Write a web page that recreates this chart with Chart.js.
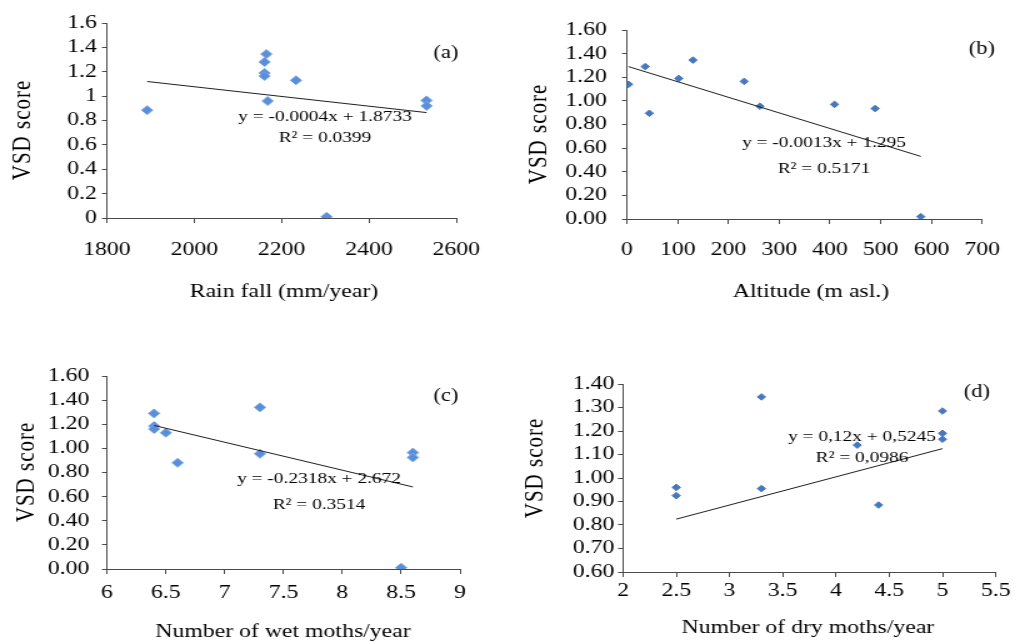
<!DOCTYPE html>
<html>
<head>
<meta charset="utf-8">
<script src="https://cdn.jsdelivr.net/npm/chart.js@4.4.0/dist/chart.umd.min.js"></script>
<style>
  html, body { margin: 0; padding: 0; background: #fff; }
  body { width: 1019px; height: 644px; position: relative; overflow: hidden; }
  canvas { position: absolute; transform-origin: 0 0; }
</style>
</head>
<body>
<canvas id="chartA"></canvas>
<canvas id="chartB"></canvas>
<canvas id="chartC"></canvas>
<canvas id="chartD"></canvas>
<script>
// (a) curah hujan
const rainfall = [1892, 2165, 2161, 2161, 2161, 2168, 2233, 2303, 2532, 2532];
const vsdA     = [0.885, 1.345, 1.28, 1.19, 1.165, 0.96, 1.13, 0.01, 0.965, 0.92];
const trendAx  = [1892, 2532];
const trendAy  = [1.12, 0.865];
const rainTicks = [1800, 2000, 2200, 2400, 2600];
const vsdTicksA = [0, 0.2, 0.4, 0.6, 0.8, 1, 1.2, 1.4, 1.6];
const vsdLabelsA = ['0', '0.2', '0.4', '0.6', '0.8', '1', '1.2', '1.4', '1.6'];

// (b) ketinggian
const altitude = [3, 36, 44, 102, 130, 231, 262, 409, 489, 579];
const vsdB     = [1.14, 1.29, 0.895, 1.19, 1.345, 1.165, 0.955, 0.97, 0.935, 0.02];
const trendBx  = [3, 579];
const trendBy  = [1.29, 0.53];
const altTicks = [0, 100, 200, 300, 400, 500, 600, 700];

// (c) bulan basah
const wetMonths = [6.4, 6.4, 6.4, 6.5, 6.6, 7.3, 7.3, 8.5, 8.6, 8.6];
const vsdC      = [1.29, 1.185, 1.16, 1.13, 0.88, 1.34, 0.955, 0.01, 0.965, 0.925];
const trendCx   = [6.4, 8.6];
const trendCy   = [1.19, 0.68];
const wetTicks  = [6, 6.5, 7, 7.5, 8, 8.5, 9];

// (d) bulan kering
const dryMonths = [2.5, 2.5, 3.3, 3.3, 4.2, 4.4, 5, 5, 5];
const vsdD      = [0.96, 0.925, 1.345, 0.955, 1.14, 0.885, 1.285, 1.19, 1.165];
const trendDx   = [2.5, 5];
const trendDy   = [0.825, 1.125];
const dryTicks  = [2, 2.5, 3, 3.5, 4, 4.5, 5, 5.5];

const vsdTicks2 = [0, 0.2, 0.4, 0.6, 0.8, 1, 1.2, 1.4, 1.6];
const vsdTicksD = [0.6, 0.7, 0.8, 0.9, 1.0, 1.1, 1.2, 1.3, 1.4];

const SX = 1.25;   // gambar asli melebar ke samping
const FONT = "'Liberation Serif', 'Times New Roman', serif";
const AXIS = '#4a4a4a';

const pts = (xs, ys) => xs.map((x, i) => ({ x: x, y: ys[i] }));

function panel(id, o) {
  const cv = document.getElementById(id);
  const wv = o.box[2] / SX;
  cv.width = Math.round(wv);
  cv.height = o.box[3];
  cv.style.left = o.box[0] + 'px';
  cv.style.top = o.box[1] + 'px';
  cv.style.transform = 'scaleX(' + SX + ')';

  // judul sumbu, label panel, persamaan
  const texts = {
    id: 'texts' + id,
    afterDraw(chart) {
      const ctx = chart.ctx;
      ctx.save();
      ctx.fillStyle = '#000';
      ctx.textAlign = 'center';
      ctx.textBaseline = 'middle';
      ctx.font = '19px ' + FONT;
      ctx.fillText(o.xTitle, o.xTitlePos[0] / SX, o.xTitlePos[1]);
      ctx.save();
      ctx.translate(o.yTitlePos[0] / SX, o.yTitlePos[1]);
      ctx.rotate(-Math.PI / 2);
      ctx.font = '21px ' + FONT;
      ctx.letterSpacing = '1px';
      ctx.fillText('VSD score', 0, 0);
      ctx.restore();
      ctx.font = '18px ' + FONT;
      ctx.fillText(o.tag, o.tagPos[0] / SX, o.tagPos[1]);
      ctx.font = '15.5px ' + FONT;
      ctx.fillText(o.eq[0], o.eqPos[0] / SX, o.eqPos[1]);
      ctx.fillText(o.eq[1], o.eqPos[0] / SX, o.eqPos[2]);
      ctx.restore();
    }
  };

  const tickFont = { family: FONT, size: 19 };

  return new Chart(cv, {
    type: 'scatter',
    data: {
      datasets: [
        {
          data: pts(o.tx, o.ty),
          showLine: true,
          borderColor: '#1e1e1e',
          borderWidth: 1,
          pointRadius: 0
        },
        {
          data: pts(o.xs, o.ys),
          pointStyle: 'rectRot',
          pointRadius: o.r,
          backgroundColor: o.color,
          borderColor: o.edge,
          borderWidth: 1
        }
      ]
    },
    options: {
      responsive: false,
      animation: false,
      events: [],
      layout: {
        autoPadding: false,
        padding: { left: 0, top: o.area[2], right: wv - o.area[1] / SX, bottom: 0 }
      },
      plugins: { legend: { display: false }, tooltip: { enabled: false } },
      scales: {
        x: {
          type: 'linear',
          min: o.xTicks[0],
          max: o.xTicks[o.xTicks.length - 1],
          afterBuildTicks: ax => { ax.ticks = o.xTicks.map(v => ({ value: v })); },
          afterFit: ax => { ax.height = o.box[3] - o.area[3]; },
          ticks: {
            font: tickFont, color: '#000', padding: o.xPad,
            autoSkip: false, maxRotation: 0, minRotation: 0,
            callback: (v, i) => String(o.xTicks[i])
          },
          grid: { drawOnChartArea: false, tickLength: 5, color: AXIS },
          border: { color: AXIS, width: 1 }
        },
        y: {
          type: 'linear',
          min: o.yTicks[0],
          max: o.yTicks[o.yTicks.length - 1],
          afterBuildTicks: ax => { ax.ticks = o.yTicks.map(v => ({ value: v })); },
          afterFit: ax => { ax.width = o.area[0] / SX; },
          ticks: {
            font: tickFont, color: '#000', padding: o.yPad,
            autoSkip: false,
            callback: (v, i) => o.yLabels[i]
          },
          grid: { drawOnChartArea: false, tickLength: 4, color: AXIS },
          border: { color: AXIS, width: 1 }
        }
      }
    },
    plugins: [texts]
  });
}

const fix2 = a => a.map(v => v.toFixed(2));

panel('chartA', {
  box: [0, 0, 500, 320], area: [107, 458, 23, 218],
  xs: rainfall, ys: vsdA, tx: trendAx, ty: trendAy,
  xTicks: rainTicks, yTicks: vsdTicksA, yLabels: vsdLabelsA,
  xPad: 16, yPad: 4, r: 4.5, color: '#5a8ed8', edge: '#79a6e6',
  xTitle: 'Rain fall (mm/year)', xTitlePos: [284, 292], yTitlePos: [23, 130],
  tag: '(a)', tagPos: [446, 53],
  eq: ['y = -0.0004x + 1.8733', 'R² = 0.0399'], eqPos: [325, 117, 138]
});

panel('chartB', {
  box: [500, 0, 519, 320], area: [127, 498, 30, 219],
  xs: altitude, ys: vsdB, tx: trendBx, ty: trendBy,
  xTicks: altTicks, yTicks: vsdTicks2, yLabels: fix2(vsdTicks2),
  xPad: 15, yPad: 12, r: 3.3, color: '#4778be', edge: '#4778be',
  xTitle: 'Altitude (m asl.)', xTitlePos: [311, 292], yTitlePos: [39, 134],
  tag: '(b)', tagPos: [482, 49],
  eq: ['y = -0.0013x + 1.295', 'R² = 0.5171'], eqPos: [324, 143, 169]
});

panel('chartC', {
  box: [0, 320, 500, 324], area: [107, 460, 56, 249],
  xs: wetMonths, ys: vsdC, tx: trendCx, ty: trendCy,
  xTicks: wetTicks, yTicks: vsdTicks2, yLabels: fix2(vsdTicks2),
  xPad: 8, yPad: 10, r: 4.5, color: '#5a8ed8', edge: '#79a6e6',
  xTitle: 'Number of wet moths/year', xTitlePos: [283, 312], yTitlePos: [27, 152],
  tag: '(c)', tagPos: [446, 76],
  eq: ['y = -0.2318x + 2.672', 'R² = 0.3514'], eqPos: [319, 159, 185]
});

panel('chartD', {
  box: [500, 320, 519, 324], area: [123, 496, 64, 252],
  xs: dryMonths, ys: vsdD, tx: trendDx, ty: trendDy,
  xTicks: dryTicks, yTicks: vsdTicksD, yLabels: fix2(vsdTicksD),
  xPad: 3, yPad: 3, r: 3.3, color: '#4778be', edge: '#4778be',
  xTitle: 'Number of dry moths/year', xTitlePos: [308, 308], yTitlePos: [36, 148],
  tag: '(d)', tagPos: [477, 72],
  eq: ['y = 0,12x + 0,5245', 'R² = 0,0986'], eqPos: [362, 117, 138]
});
</script>
</body>
</html>
